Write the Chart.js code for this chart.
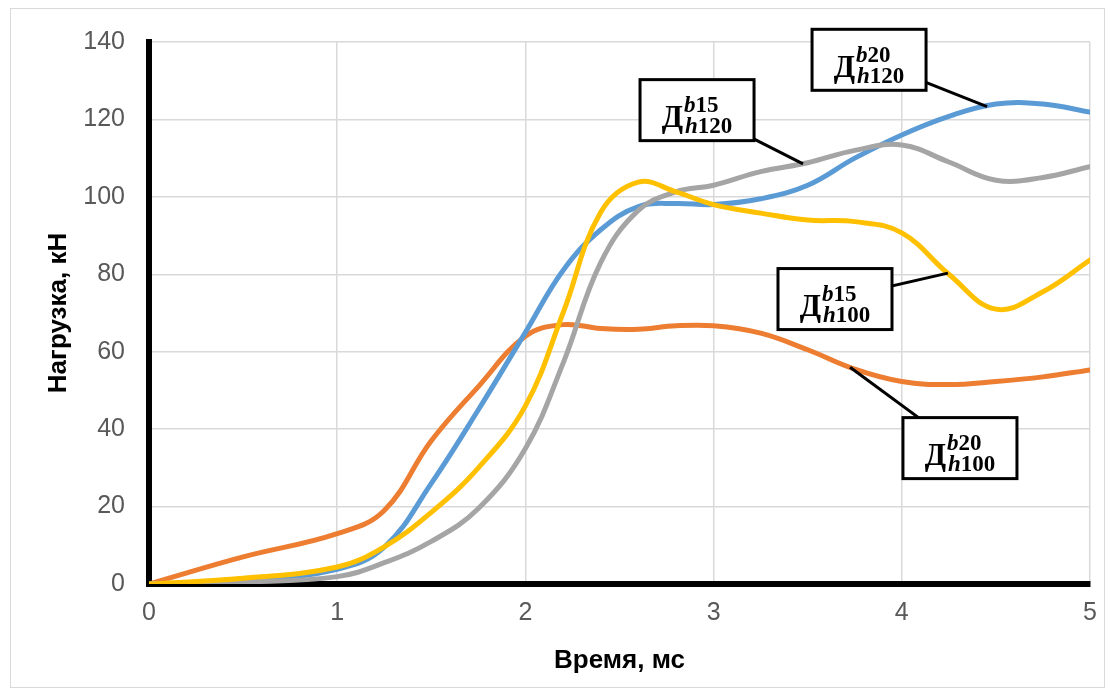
<!DOCTYPE html>
<html>
<head>
<meta charset="utf-8">
<script src="https://cdn.jsdelivr.net/npm/chart.js@4.4.1/dist/chart.umd.min.js"></script>
<style>
    html, body { margin: 0; padding: 0; background: #fff; }
    #wrap { width: 1114px; height: 695px; position: relative; }
</style>
</head>
<body>
<div id="wrap"><canvas id="loadChart" width="1114" height="695"></canvas></div>
<script>
// время, мс
const time = [0, 0.5, 1, 1.25, 1.5, 1.75, 2, 2.2, 2.4, 2.6, 2.8, 3, 3.25, 3.5, 3.75, 4, 4.25, 4.5, 4.75, 5];

// нагрузка, кН
const loadB20H120 = [0, 0.8, 3.8, 9.5, 26, 45, 65, 81, 91.5, 97.5, 98.3, 98, 99.5, 103, 110, 116, 120.8, 124, 124, 121.9];
const loadB20H100 = [0, 7, 13, 19, 37, 51, 64, 67, 66, 65.8, 66.7, 66.7, 64.8, 60.5, 55.5, 52.3, 51.5, 52.3, 53.5, 55.3];
const loadB15H120 = [0, 0.5, 1.9, 5.5, 11, 19.5, 35, 57, 83, 96.5, 101.3, 103, 106.5, 108.8, 112, 113.4, 109, 104.3, 105, 107.8];
const loadB15H100 = [0, 1.5, 4.4, 9.6, 18.5, 30, 46, 70, 96, 103.8, 101.3, 98, 95.8, 94, 93.6, 90.7, 80, 71, 75.5, 83.7];

const xTicks = [0, 1, 2, 3, 4, 5];
const yTicks = [0, 20, 40, 60, 80, 100, 120, 140];

// подписи кривых: Д с индексами
const labelSup = ['b20', 'b15', 'b15', 'b20'];
const labelSub = ['h120', 'h120', 'h100', 'h100'];

// положение рамок и концов выносок (в единицах осей)
const callouts = [
    { box: [3.826, 135.4], tip: [4.453, 123.3] },
    { box: [2.912, 122.4], tip: [3.475, 108.5] },
    { box: [3.645, 73.6], tip: [4.245, 80.3] },
    { box: [4.309, 35.1], tip: [3.725, 56] }
];

function pts(values) {
    return values.map((v, i) => ({ x: time[i], y: v }));
}

const frame = {
    id: 'frame',
    beforeDraw(chart) {
        const ctx = chart.ctx;
        ctx.save();
        ctx.fillStyle = '#fff';
        ctx.fillRect(0, 0, chart.width, chart.height);
        ctx.strokeStyle = '#d9d9d9';
        ctx.lineWidth = 1;
        ctx.strokeRect(10.5, 8.5, 1094, 679);
        ctx.restore();
    }
};

function idxFont(ch) {
    // буквы курсивом, цифры прямо
    return /[a-z]/.test(ch) ? 'italic bold 23px "Liberation Serif"' : 'bold 23px "Liberation Serif"';
}

function drawPart(ctx, text, x, y) {
    for (const ch of text) {
        ctx.font = idxFont(ch);
        ctx.fillText(ch, x, y);
        x += ctx.measureText(ch).width;
    }
    return x;
}

function partWidth(ctx, text) {
    let w = 0;
    for (const ch of text) {
        ctx.font = idxFont(ch);
        w += ctx.measureText(ch).width;
    }
    return w;
}

const calloutPlugin = {
    id: 'callouts',
    afterDatasetsDraw(chart) {
        const ctx = chart.ctx;
        const xs = chart.scales.x, ys = chart.scales.y;
        const bw = 114, bh = 61;
        ctx.save();
        callouts.forEach((c, i) => {
            const cx = xs.getPixelForValue(c.box[0]);
            const cy = ys.getPixelForValue(c.box[1]);
            const tx = xs.getPixelForValue(c.tip[0]);
            const ty = ys.getPixelForValue(c.tip[1]);
            ctx.strokeStyle = '#000';
            ctx.lineWidth = 3;
            ctx.beginPath();
            ctx.moveTo(cx, cy);
            ctx.lineTo(tx, ty);
            ctx.stroke();
            ctx.fillStyle = '#fff';
            ctx.fillRect(cx - bw / 2, cy - bh / 2, bw, bh);
            ctx.strokeRect(cx - bw / 2, cy - bh / 2, bw, bh);

            ctx.font = 'bold 31px "Liberation Serif"';
            const dW = ctx.measureText('Д').width;
            const sW = Math.max(partWidth(ctx, labelSup[i]), partWidth(ctx, labelSub[i]));
            const left = cx - (dW + sW + 2) / 2;
            ctx.fillStyle = '#000';
            ctx.textBaseline = 'alphabetic';
            ctx.font = 'bold 31px "Liberation Serif"';
            ctx.fillText('Д', left, cy + 17);
            drawPart(ctx, labelSup[i], left + dW + 1, cy + 2);
            drawPart(ctx, labelSub[i], left + dW + 2, cy + 23);
        });
        ctx.restore();
    }
};

const lineDefaults = { borderWidth: 5, pointRadius: 0, tension: 0.4, fill: false, borderCapStyle: 'round' };

new Chart(document.getElementById('loadChart').getContext('2d'), {
    type: 'line',
    data: {
        datasets: [
            { ...lineDefaults, label: 'Дb15h100', data: pts(loadB15H100), borderColor: '#FFC000' },
            { ...lineDefaults, label: 'Дb15h120', data: pts(loadB15H120), borderColor: '#A5A5A5' },
            { ...lineDefaults, label: 'Дb20h120', data: pts(loadB20H120), borderColor: '#5B9BD5' },
            { ...lineDefaults, label: 'Дb20h100', data: pts(loadB20H100), borderColor: '#ED7D31' }
        ]
    },
    options: {
        responsive: false,
        animation: false,
        layout: { padding: { left: 0, top: 42, right: 24, bottom: 0 } },
        plugins: { legend: { display: false }, tooltip: { enabled: false } },
        scales: {
            x: {
                type: 'linear',
                min: 0,
                max: 5,
                afterBuildTicks: scale => { scale.ticks = xTicks.map(v => ({ value: v })); },
                afterFit: scale => { scale.height = 111; },
                grid: { color: '#d9d9d9', lineWidth: 1.5, drawTicks: false },
                border: { color: '#000', width: 6 },
                ticks: { color: '#595959', padding: 14, font: { family: '"Liberation Sans"', size: 25 } },
                title: { display: true, text: 'Время, мс', color: '#000', padding: { bottom: 19 },
                    font: { family: '"Liberation Sans"', size: 26, weight: 'bold' } }
            },
            y: {
                min: 0,
                max: 140,
                afterBuildTicks: scale => { scale.ticks = yTicks.map(v => ({ value: v })); },
                afterFit: scale => { scale.width = 149; },
                grid: { color: '#d9d9d9', lineWidth: 1.5, drawTicks: false },
                border: { color: '#000', width: 6 },
                ticks: { color: '#595959', padding: 24, font: { family: '"Liberation Sans"', size: 25 } },
                title: { display: true, text: 'Нагрузка, кН', color: '#000', padding: { top: 43 },
                    font: { family: '"Liberation Sans"', size: 26, weight: 'bold' } }
            }
        }
    },
    plugins: [frame, calloutPlugin]
});
</script>
</body>
</html>
